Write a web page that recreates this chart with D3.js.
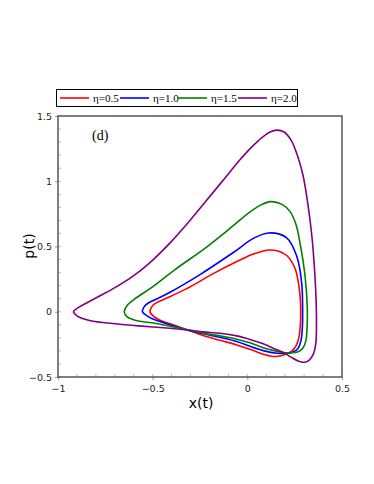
<!DOCTYPE html>
<html>
<head>
<meta charset="utf-8">
<script src="https://cdn.jsdelivr.net/npm/d3@7"></script>
<style>
  body { margin: 0; background: #fff; }
  svg { display: block; }
</style>
</head>
<body>
<div id="chart"></div>
<script>
// limit cycles, [x, p] pairs, one closed loop per eta
const etaLabels = ["η=0.5", "η=1.0", "η=1.5", "η=2.0"];
const lineColors = ["#ff0000", "#0000ff", "#008000", "#800080"];

const loopEta05 = [
  [-0.514, 0], [-0.506, 0.035], [-0.488, 0.062], [-0.451, 0.088], [-0.32, 0.177],
  [-0.18, 0.292], [-0.039, 0.396], [0.032, 0.442], [0.111, 0.473], [0.162, 0.465],
  [0.208, 0.431], [0.252, 0.331], [0.275, 0.169], [0.282, 0.015], [0.279, -0.123],
  [0.272, -0.2], [0.257, -0.262], [0.233, -0.304], [0.199, -0.327], [0.162, -0.341],
  [0.125, -0.341], [0.084, -0.325], [0.014, -0.288], [-0.056, -0.254], [-0.144, -0.219],
  [-0.233, -0.182], [-0.303, -0.146], [-0.408, -0.092], [-0.461, -0.065], [-0.493, -0.038]
];
const loopEta10 = [
  [-0.554, 0], [-0.546, 0.035], [-0.525, 0.065], [-0.488, 0.092], [-0.408, 0.15],
  [-0.25, 0.285], [-0.074, 0.454], [0.032, 0.562], [0.111, 0.604], [0.208, 0.567],
  [0.261, 0.425], [0.287, 0.221], [0.292, 0.015], [0.29, -0.138], [0.283, -0.223],
  [0.268, -0.281], [0.239, -0.31], [0.199, -0.319], [0.157, -0.318], [0.084, -0.298],
  [0.014, -0.265], [-0.056, -0.228], [-0.144, -0.196], [-0.233, -0.169], [-0.303, -0.146],
  [-0.408, -0.1], [-0.488, -0.062], [-0.53, -0.031]
];
const loopEta15 = [
  [-0.65, 0], [-0.636, 0.046], [-0.593, 0.1], [-0.514, 0.177], [-0.382, 0.323],
  [-0.215, 0.496], [-0.092, 0.638], [0.004, 0.754], [0.067, 0.815], [0.123, 0.844],
  [0.183, 0.823], [0.225, 0.769], [0.257, 0.669], [0.278, 0.528], [0.305, 0.272],
  [0.317, 0.015], [0.315, -0.138], [0.309, -0.223], [0.294, -0.277], [0.268, -0.306],
  [0.231, -0.315], [0.199, -0.314], [0.146, -0.3], [0.084, -0.275], [0.014, -0.238],
  [-0.056, -0.21], [-0.144, -0.185], [-0.233, -0.164], [-0.303, -0.142], [-0.408, -0.11],
  [-0.488, -0.088], [-0.593, -0.065], [-0.636, -0.038]
];
const loopEta20 = [
  [-0.918, 0], [-0.894, 0.031], [-0.842, 0.073], [-0.778, 0.123], [-0.699, 0.185],
  [-0.611, 0.265], [-0.514, 0.377], [-0.408, 0.528], [-0.303, 0.7], [-0.215, 0.854],
  [-0.118, 1.025], [-0.039, 1.164], [0.025, 1.265], [0.077, 1.335], [0.12, 1.377],
  [0.155, 1.392], [0.194, 1.377], [0.231, 1.315], [0.262, 1.208], [0.294, 1.046],
  [0.32, 0.823], [0.34, 0.592], [0.355, 0.323], [0.364, 0.054], [0.365, -0.138],
  [0.362, -0.238], [0.349, -0.323], [0.326, -0.373], [0.299, -0.387], [0.268, -0.377],
  [0.231, -0.348], [0.199, -0.319], [0.146, -0.285], [0.084, -0.246], [0.014, -0.212],
  [-0.056, -0.185], [-0.144, -0.165], [-0.233, -0.154], [-0.303, -0.142], [-0.408, -0.127],
  [-0.576, -0.108], [-0.699, -0.092], [-0.805, -0.075], [-0.857, -0.058], [-0.9, -0.031]
];
const loops = [loopEta05, loopEta10, loopEta15, loopEta20];

const xTicks = [-1, -0.5, 0, 0.5];
const yTicks = [-0.5, 0, 0.5, 1, 1.5];

const width = 374, height = 484;
const margin = { left: 58, right: 32, top: 116, bottom: 107 };

const svg = d3.select("#chart").append("svg")
  .attr("width", width)
  .attr("height", height);

const x = d3.scaleLinear().domain([-1, 0.5]).range([margin.left, width - margin.right]);
const y = d3.scaleLinear().domain([-0.5, 1.5]).range([height - margin.bottom, margin.top]);

// minor ticks inside the frame
const minorX = d3.range(-1, 0.5001, 0.1);
const minorY = d3.range(-0.5, 1.5001, 0.1);
svg.append("g").selectAll("line").data(minorX).enter().append("line")
  .attr("x1", d => x(d)).attr("x2", d => x(d))
  .attr("y1", y(-0.5)).attr("y2", y(-0.5) - 3)
  .attr("stroke", "#bbb").attr("stroke-width", 1);
svg.append("g").selectAll("line").data(minorY).enter().append("line")
  .attr("x1", x(-1)).attr("x2", x(-1) + 3)
  .attr("y1", d => y(d)).attr("y2", d => y(d))
  .attr("stroke", "#bbb").attr("stroke-width", 1);

// axes
const xAxis = svg.append("g")
  .attr("transform", "translate(0," + y(-0.5) + ")")
  .call(d3.axisBottom(x).tickValues(xTicks).tickSize(3).tickFormat(d3.format("")));
const yAxis = svg.append("g")
  .attr("transform", "translate(" + x(-1) + ",0)")
  .call(d3.axisLeft(y).tickValues(yTicks).tickSize(3).tickFormat(d3.format("")));
[xAxis, yAxis].forEach(g => {
  g.select(".domain").remove();
  g.selectAll(".tick line").attr("stroke", "#999");
  g.selectAll(".tick text")
    .attr("fill", "#222")
    .style("font-family", "'DejaVu Sans', sans-serif")
    .style("font-size", "9.5px");
});
xAxis.selectAll(".tick text").attr("dy", "0.9em");

// curves
const line = d3.line()
  .x(d => x(d[0]))
  .y(d => y(d[1]))
  .curve(d3.curveCatmullRomClosed.alpha(0.5));

svg.append("g").selectAll("path").data(loops).enter().append("path")
  .attr("d", line)
  .attr("fill", "none")
  .attr("stroke", (d, i) => lineColors[i])
  .attr("stroke-width", 1.6);

// frame
svg.append("rect")
  .attr("x", x(-1)).attr("y", y(1.5))
  .attr("width", x(0.5) - x(-1)).attr("height", y(-0.5) - y(1.5))
  .attr("fill", "none")
  .attr("stroke", "#555")
  .attr("stroke-width", 1.5);

// panel tag
svg.append("text")
  .attr("x", 92).attr("y", 140)
  .style("font-family", "'Liberation Serif', serif")
  .style("font-size", "14px")
  .text("(d)");

// axis titles
svg.append("text")
  .attr("x", 201).attr("y", 408)
  .attr("text-anchor", "middle")
  .style("font-family", "'DejaVu Sans', sans-serif")
  .style("font-size", "14px")
  .text("x(t)");
svg.append("text")
  .attr("transform", "translate(34,246) rotate(-90)")
  .attr("text-anchor", "middle")
  .style("font-family", "'DejaVu Sans', sans-serif")
  .style("font-size", "14px")
  .text("p(t)");

// legend
const legend = svg.append("g");
legend.append("rect")
  .attr("x", 56.5).attr("y", 89.5)
  .attr("width", 241).attr("height", 17)
  .attr("fill", "#fff")
  .attr("stroke", "#000")
  .attr("stroke-width", 1);
const legendX = [60, 120, 178, 238];
const items = legend.selectAll("g.item").data(etaLabels).enter().append("g")
  .attr("transform", (d, i) => "translate(" + legendX[i] + ",98)");
items.append("line")
  .attr("x1", 0).attr("x2", 29)
  .attr("stroke", (d, i) => lineColors[i])
  .attr("stroke-width", 1.6);
items.append("text")
  .attr("x", 33).attr("y", 4)
  .style("font-family", "'Liberation Serif', serif")
  .style("font-size", "11px")
  .text(d => d);
</script>
</body>
</html>
